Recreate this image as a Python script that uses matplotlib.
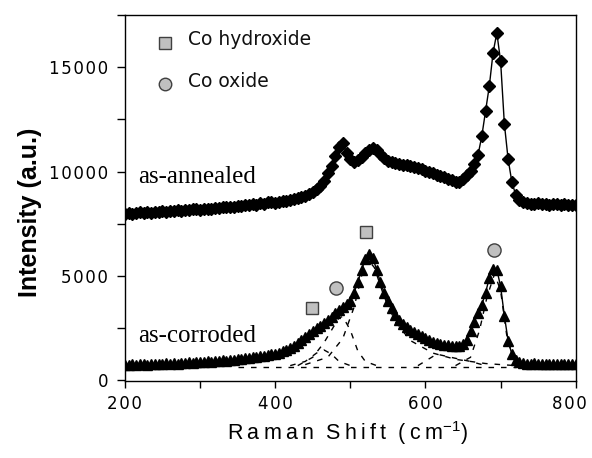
import numpy as np
import matplotlib
matplotlib.use("Agg")
import matplotlib.pyplot as plt
from matplotlib.ticker import FuncFormatter, MultipleLocator
from matplotlib.transforms import ScaledTranslation

# ---------------- data ----------------
shift = np.arange(200, 805, 5)  # Raman shift grid, cm^-1

annealed = [
    7980, 8020, 7960, 8010, 8040, 8000, 8060, 8030, 8080, 8060,   # 200-245
    8100, 8070, 8120, 8110, 8150, 8130, 8170, 8160, 8200, 8190,   # 250-295
    8150, 8200, 8230, 8210, 8260, 8250, 8290, 8280, 8320, 8300,   # 300-345
    8350, 8340, 8390, 8380, 8430, 8420, 8480, 8470, 8520, 8540,   # 350-395
    8500, 8560, 8600, 8590, 8650, 8680, 8720, 8800, 8850, 8920,   # 400-445
    9000, 9150, 9300, 9550, 9950, 10250, 10750, 11200, 11350, 10900,  # 450-495
    10600, 10450, 10550, 10700, 10900, 11050, 11150, 11050, 10850, 10650,  # 500-545
    10500, 10450, 10400, 10350, 10320, 10300, 10280, 10230, 10180, 10120,  # 550-595
    10050, 10000, 9920, 9860, 9800, 9720, 9650, 9580, 9520, 9480,   # 600-645
    9650, 9820, 10050, 10350, 10800, 11700, 12900, 14100, 15700, 16650,  # 650-695
    15300, 12300, 10600, 9500, 8900, 8650, 8520, 8500, 8470, 8450,   # 700-745
    8480, 8440, 8460, 8420, 8450, 8430, 8410, 8440, 8400, 8420,   # 750-795
    8400,                                                          # 800
]

corroded = [
    750, 730, 770, 740, 760, 780, 750, 790, 770, 800,   # 200-245
    780, 810, 800, 820, 790, 830, 820, 850, 840, 860,   # 250-295
    880, 870, 900, 890, 920, 910, 950, 940, 980, 970,   # 300-345
    1010, 1030, 1050, 1070, 1100, 1120, 1150, 1180, 1210, 1240,   # 350-395
    1280, 1320, 1380, 1450, 1550, 1650, 1800, 1920, 2050, 2200,   # 400-445
    2350, 2480, 2600, 2750, 2900, 3050, 3200, 3350, 3500, 3650,   # 450-495
    3800, 4200, 4700, 5300, 5800, 6050, 5850, 5300, 4700, 4200,   # 500-545
    3800, 3450, 3150, 2900, 2700, 2550, 2400, 2300, 2200, 2100,   # 550-595
    2000, 1920, 1850, 1800, 1750, 1710, 1680, 1650, 1630, 1640,   # 600-645
    1750, 1950, 2350, 2800, 3200, 3600, 4200, 4900, 5350, 5300,   # 650-695
    4500, 3100, 1900, 1250, 950, 870, 820, 800, 790, 810,         # 700-745
    780, 800, 790, 770, 800, 780, 790, 770, 800, 780,             # 750-795
    790,                                                          # 800
]

# fitted components (dashed) of the as-corroded spectrum
fit_base_x = [350, 720]
fit_base_y = [650, 650]
fit_a_x = [430, 450, 465, 475, 485, 490, 500, 510, 520, 535]
fit_a_y = [700, 1100, 1800, 2400, 3000, 3050, 2400, 1400, 900, 700]
fit_b_x = [420, 440, 455, 465, 475, 485, 500]
fit_b_y = [700, 900, 1300, 1450, 1250, 900, 700]
fit_c_x = [440, 470, 490, 505, 515, 523, 532, 545, 560, 580, 610, 640, 680, 720]
fit_c_y = [750, 1100, 2000, 3500, 5000, 5800, 5400, 4000, 2800, 1900, 1300, 1000, 800, 700]
fit_d_x = [590, 615, 640, 660, 680]
fit_d_y = [700, 1250, 1050, 900, 700]
fit_e_x = [640, 660, 672, 682, 692, 700, 708, 716, 730]
fit_e_y = [700, 1100, 2400, 4000, 5100, 4300, 2200, 1100, 700]

# peak assignments (symbol positions)
hyd_x = [449, 521]
hyd_y = [3460, 7100]
oxi_x = [481, 691]
oxi_y = [4420, 6230]

# legend entries
legend_labels = ["Co hydroxide", "Co oxide"]
legend_y = [16160, 14180]

sample_labels = ["as-annealed", "as-corroded"]
sample_label_y = [9440, 1830]

xticks_major = [200, 400, 600, 800]
yticks_major = [0, 5000, 10000, 15000]

# ---------------- figure ----------------
SANS = ["Liberation Sans", "DejaVu Sans"]
plt.rcParams["font.family"] = SANS
plt.rcParams["mathtext.fontset"] = "custom"
plt.rcParams["mathtext.rm"] = "Liberation Sans"

fig = plt.figure(figsize=(5.92, 4.58), dpi=100)
ax = fig.add_axes([0.211, 0.168, 0.7615, 0.799])

GRAY = "#c0c0c0"
EDGE = "#404040"

# fitted components
for fx, fy in [(fit_base_x, fit_base_y), (fit_a_x, fit_a_y), (fit_b_x, fit_b_y),
               (fit_c_x, fit_c_y), (fit_d_x, fit_d_y), (fit_e_x, fit_e_y)]:
    ax.plot(fx, fy, color="black", lw=1.0, ls=(0, (4, 5)), zorder=2)

ax.plot(shift, annealed, color="black", lw=1.0, marker="D", ms=6,
        mfc="black", mec="black", zorder=3)
ax.plot(shift, corroded, color="black", lw=1.0, marker="^", ms=6.5,
        mfc="black", mec="black", zorder=3)

# peak assignment symbols
ax.plot(hyd_x, hyd_y, ls="none", marker="s", ms=8.5, mfc=GRAY, mec=EDGE,
        mew=1.0, zorder=4)
ax.plot(oxi_x, oxi_y, ls="none", marker="o", ms=9.5, mfc=GRAY, mec=EDGE,
        mew=1.0, zorder=4)

# legend drawn inside the axes
ax.plot([253], [legend_y[0]], ls="none", marker="s", ms=8, mfc=GRAY, mec=EDGE,
        mew=1.0, zorder=4)
ax.plot([253], [legend_y[1]], ls="none", marker="o", ms=9, mfc=GRAY, mec=EDGE,
        mew=1.0, zorder=4)
for lab, ly in zip(legend_labels, legend_y):
    ax.text(284, ly + 150, lab, fontsize=13.5, ha="left", va="center",
            family=["DejaVu Sans"], color="#111111")

# sample labels
for lab, ly in zip(sample_labels, sample_label_y):
    ax.text(217, ly, lab, fontsize=18, ha="left", va="baseline",
            family=["Liberation Serif", "DejaVu Serif"])

ax.set_xlim(200, 800)
ax.set_ylim(-40, 17500)

ax.set_xticks(xticks_major)
ax.xaxis.set_minor_locator(MultipleLocator(100))
ax.set_yticks(yticks_major)
ax.yaxis.set_minor_locator(MultipleLocator(2500))


def spaced(v, pos):
    return "\u200a".join(str(int(round(v))))


ax.xaxis.set_major_formatter(FuncFormatter(spaced))
ax.yaxis.set_major_formatter(FuncFormatter(spaced))

ax.tick_params(axis="both", which="both", direction="out", top=False,
               right=False, width=1.0, labelsize=12, colors="black")
ax.tick_params(axis="x", which="major", length=5, pad=5)
ax.tick_params(axis="y", which="major", length=6, pad=6)
ax.tick_params(axis="x", which="minor", length=5)
ax.tick_params(axis="y", which="minor", length=6)
for lbl in ax.get_yticklabels() + ax.get_xticklabels():
    lbl.set_fontfamily(["DejaVu Sans"])

fig.canvas.draw()
# the last x label sits slightly left of its tick, as in the reference
last = ax.get_xticklabels()[-1]
last.set_transform(last.get_transform() + ScaledTranslation(-6 / 100, 0, fig.dpi_scale_trans))

for sp in ax.spines.values():
    sp.set_linewidth(1.0)
    sp.set_color("black")

ax.set_ylabel("Intensity (a.u.)", fontsize=18, fontweight="bold")
ax.yaxis.set_label_coords(-0.184, 0.46)
ax.set_xlabel("R\u2009a\u2009m\u2009a\u2009n  S\u2009h\u2009i\u2009f\u2009t  (\u2009c\u2009m$^{-1}$)",
              fontsize=15.5)
ax.xaxis.set_label_coords(0.494, -0.105)

fig.savefig("out.png", dpi=100, facecolor="white")
